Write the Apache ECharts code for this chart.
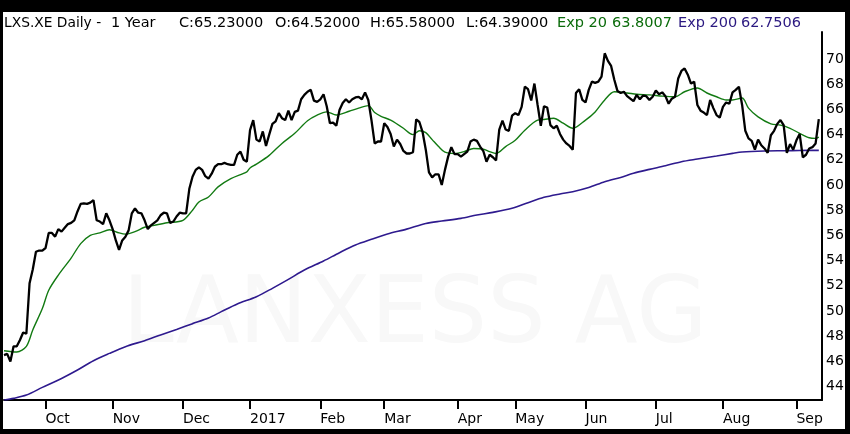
<!DOCTYPE html>
<html>
<head>
<meta charset="utf-8">
<script src="https://cdn.jsdelivr.net/npm/echarts@6/dist/echarts.min.js"></script>
<style>
html,body{margin:0;padding:0;background:#000;}
#c{width:850px;height:434px;}
</style>
</head>
<body>
<div id="c"></div>
<script>
// ---------- DATA ----------
const START_DATE = '2016-09-14';
const HOLIDAYS = ['2016-12-26', '2017-04-14', '2017-04-17', '2017-05-01'];
const MONTHS = ['Jan','Feb','Mar','Apr','May','Jun','Jul','Aug','Sep','Oct','Nov','Dec'];

// daily closes, LXS.XE
const close = [
  46.5, 46.6, 46.0, 47.2, 47.2, 47.7, 48.3, 48.2, 52.2, 53.3,
  54.7, 54.8, 54.8, 55.0, 56.2, 56.2, 55.9, 56.5, 56.3, 56.6,
  56.9, 57.0, 57.2, 57.9, 58.5, 58.55, 58.5, 58.6, 58.8, 57.2,
  57.1, 56.9, 57.75, 57.2, 56.5, 55.6, 54.85, 55.6, 55.9, 56.4,
  57.75, 58.15, 57.8, 57.75, 57.2, 56.5, 56.8, 57.0, 57.2, 57.6,
  57.8, 57.75, 57.0, 57.1, 57.5, 57.8, 57.75, 57.75, 59.7, 60.65,
  61.2, 61.4, 61.2, 60.7, 60.5, 60.9, 61.45, 61.65, 61.65, 61.75,
  61.65, 61.6, 61.6, 62.4, 62.65, 62.0, 61.85, 64.35, 65.15, 63.6,
  63.45, 64.25, 63.1, 64.0, 64.85, 65.05, 65.7, 65.3, 65.15, 65.9,
  65.15, 65.8, 65.9, 66.8, 67.15, 67.4, 67.55, 66.7, 66.6, 66.8,
  67.2, 66.25, 64.9, 64.95, 64.7, 65.95, 66.5, 66.8, 66.55, 66.8,
  66.95, 67.0, 66.8, 67.35, 66.75, 65.15, 63.3, 63.45, 63.45, 64.9,
  64.6, 64.05, 63.05, 63.6, 63.25, 62.7, 62.5, 62.5, 62.6, 65.2,
  65.0, 64.2, 62.8, 61.0, 60.6, 60.85, 60.85, 60.0, 61.2, 62.25,
  63.0, 62.45, 62.45, 62.25, 62.45, 62.65, 63.45, 63.6, 63.5, 63.05,
  62.7, 61.85, 62.4, 62.2, 61.95, 64.4, 65.1, 64.4, 64.3, 65.5,
  65.7, 65.55, 66.2, 67.8, 67.6, 66.7, 68.05, 66.35, 64.7, 66.25,
  66.15, 64.75, 64.5, 64.7, 64.05, 63.6, 63.3, 63.1, 62.8, 67.3,
  67.6, 66.75, 66.55, 67.55, 68.2, 68.1, 68.2, 68.6, 70.45, 69.85,
  69.45, 68.35, 67.45, 67.3, 67.4, 67.05, 66.85, 66.65, 67.15, 66.8,
  67.1, 67.05, 66.75, 67.0, 67.5, 67.2, 67.35, 67.05, 66.45, 66.85,
  67.0, 68.45, 69.05, 69.25, 68.75, 68.05, 68.2, 66.35, 65.9, 65.75,
  65.55, 66.75, 66.1, 65.55, 65.35, 66.2, 66.55, 66.45, 67.35, 67.55,
  67.8, 66.35, 64.3, 63.7, 63.5, 62.8, 63.6, 63.15, 62.9, 62.55,
  63.95, 64.3, 64.85, 65.15, 64.75, 62.55, 63.25, 62.8, 63.55, 64.05,
  62.2, 62.4, 62.9, 63.0, 63.3, 65.23
];

// Exp 20 (trading-day index, value)
const ema20Days = [0,4,7,9,12,14,17,21,24,27,30,33,36,38,41,44,47,51,56,59,61,64,67,71,76,77,79,83,87,91,95,98,101,104,108,111,114,116,118,121,125,127,128,130,132,134,136,138,141,144,147,150,152,154,157,160,163,167,169,172,175,178,182,185,188,191,195,198,202,206,210,213,217,220,223,226,228,231,233,236,240,243,246,249,252,254,255];
const ema20Vals = [46.85,46.75,47.2,48.5,50.2,51.65,52.85,54.2,55.35,56.0,56.2,56.45,56.2,56.1,56.3,56.65,56.8,57.0,57.2,58.0,58.65,59.05,59.85,60.5,61.05,61.35,61.65,62.35,63.3,64.1,65.1,65.55,65.8,65.55,65.85,66.1,66.3,65.75,65.45,65.15,64.5,64.1,64.0,64.3,64.15,63.6,63.05,62.6,62.5,62.65,62.9,62.85,62.65,62.5,63.05,63.55,64.35,65.15,65.2,65.3,64.9,64.5,65.15,65.8,66.75,67.4,67.3,67.2,67.15,67.05,67.0,67.4,67.7,67.3,67.0,66.75,66.75,66.9,66.1,65.4,64.85,64.75,64.5,64.1,63.75,63.7,63.8];

// Exp 200 (trading-day index, value)
const ema200Days = [0,3,7,12,18,23,28,33,38,44,49,54,59,64,68,73,79,84,89,94,100,105,110,115,120,126,132,137,143,148,153,159,164,169,174,178,183,188,193,197,202,207,212,217,223,228,231,238,244,249,255];
const ema200Vals = [42.94,43.07,43.33,43.94,44.65,45.32,46.06,46.64,47.17,47.65,48.1,48.54,49.0,49.45,49.95,50.56,51.14,51.8,52.51,53.25,53.97,54.63,55.24,55.69,56.11,56.5,56.95,57.14,57.35,57.62,57.83,58.15,58.6,59.02,59.29,59.47,59.8,60.26,60.6,60.93,61.24,61.53,61.85,62.06,62.3,62.51,62.62,62.7,62.72,62.74,62.75];

const yTickLabels = [44,46,48,50,52,54,56,58,60,62,64,66,68,70];

const headerParts = [
  { text: 'LXS.XE Daily -', color: '#000000' },
  { text: '1 Year', color: '#000000' },
  { text: 'C:65.23000', color: '#000000' },
  { text: 'O:64.52000', color: '#000000' },
  { text: 'H:65.58000', color: '#000000' },
  { text: 'L:64.39000', color: '#000000' },
  { text: 'Exp 20', color: '#0b6b0b' },
  { text: '63.8007', color: '#0b6b0b' },
  { text: 'Exp 200', color: '#2a1880' },
  { text: '62.7506', color: '#2a1880' }
];

// ---------- CATEGORIES (trading days) ----------
function tradingDays(start, n) {
  const out = [];
  const d = new Date(start + 'T00:00:00Z');
  while (out.length < n) {
    const wd = d.getUTCDay();
    const s = d.toISOString().slice(0, 10);
    if (wd !== 0 && wd !== 6 && HOLIDAYS.indexOf(s) < 0) out.push(s);
    d.setUTCDate(d.getUTCDate() + 1);
  }
  return out;
}
const dates = tradingDays(START_DATE, close.length + 1);
const isMonthStart = dates.map((s, i) => i > 0 && s.slice(5, 7) !== dates[i - 1].slice(5, 7));

// ---------- LAYOUT ----------
const FONT = 'DejaVu Sans';
const headerX = [4, 111, 179, 275, 370, 466, 557, 612, 678, 741];
const headerSize = [13.8, 14.5, 14.5, 14.5, 14.5, 14.5, 14.5, 14.5, 14.5, 14.5];

const chart = echarts.init(document.getElementById('c'), null, { renderer: 'canvas' });
chart.setOption({
  animation: false,
  backgroundColor: '#000000',
  grid: { left: 4, top: 32, width: 818, height: 368, containLabel: false },
  graphic: [
    { type: 'rect', z: -10, shape: { x: 3, y: 12, width: 842, height: 417 }, style: { fill: '#ffffff' }, silent: true },
    { type: 'text', z: -5, x: 415, y: 318, silent: true,
      style: { text: 'LANXESS AG', fontSize: 92, fontFamily: FONT, fill: '#f8f8f8', align: 'center', verticalAlign: 'middle' } }
  ].concat(headerParts.map((p, k) => ({
    type: 'text', x: headerX[k], y: 23, silent: true,
    style: { text: p.text, fill: p.color, fontSize: headerSize[k], fontFamily: FONT, align: 'left', verticalAlign: 'middle' }
  }))),
  xAxis: {
    type: 'category',
    data: dates,
    boundaryGap: false,
    axisLine: { show: true, lineStyle: { color: '#000', width: 2 } },
    axisTick: { show: true, length: 9, lineStyle: { color: '#000', width: 2 },
      interval: (idx) => isMonthStart[idx] },
    axisLabel: {
      interval: (idx) => isMonthStart[idx],
      align: 'left', margin: 12, color: '#000', fontSize: 14, fontFamily: FONT,
      formatter: (v) => { const m = parseInt(v.slice(5, 7), 10) - 1; return m === 0 ? v.slice(0, 4) : MONTHS[m]; }
    },
    splitLine: { show: false }
  },
  yAxis: {
    type: 'value',
    position: 'right',
    min: 42.94,
    max: 72.14,
    axisLine: { show: true, lineStyle: { color: '#000', width: 2 } },
    axisTick: { show: false },
    splitLine: { show: false },
    axisLabel: { customValues: yTickLabels, margin: 4, color: '#000', fontSize: 14, fontFamily: FONT }
  },
  series: [
    { name: 'Exp 200', type: 'line', showSymbol: false, smooth: 0.3, z: 3,
      lineStyle: { color: '#2e1a8e', width: 1.6 },
      data: ema200Days.map((d, k) => [d, ema200Vals[k]]) },
    { name: 'Exp 20', type: 'line', showSymbol: false, smooth: 0.3, z: 4,
      lineStyle: { color: '#127a12', width: 1.4 },
      data: ema20Days.map((d, k) => [d, ema20Vals[k]]) },
    { name: 'Close', type: 'line', showSymbol: false, z: 5,
      lineStyle: { color: '#000000', width: 2.3 },
      data: close }
  ]
});
</script>
</body>
</html>
